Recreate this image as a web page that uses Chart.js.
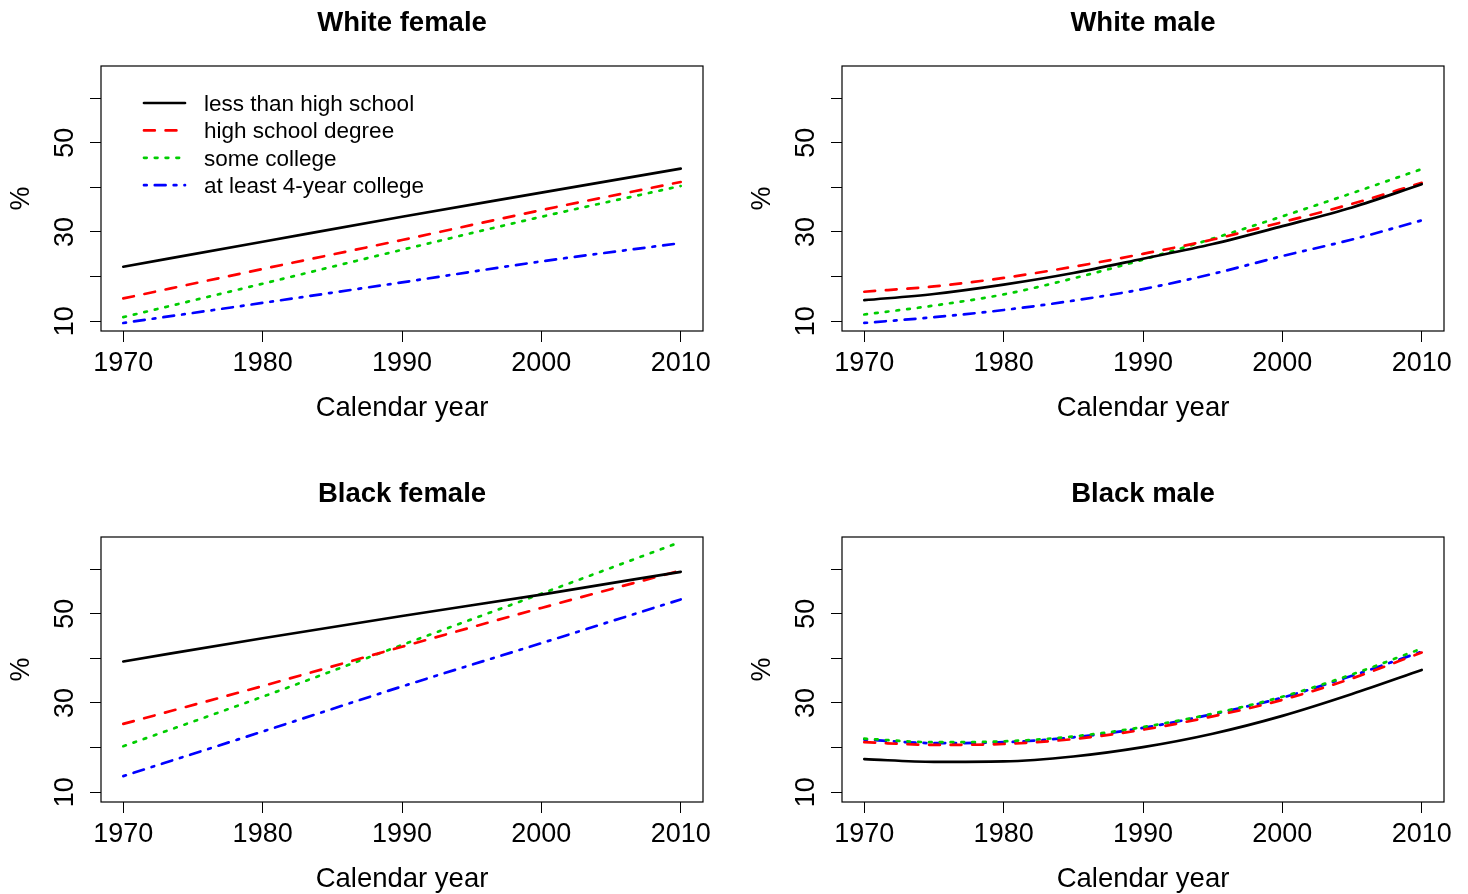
<!DOCTYPE html>
<html>
<head>
<meta charset="utf-8">
<script src="https://cdn.jsdelivr.net/npm/chart.js@4"></script>
<style>
  html, body { margin: 0; padding: 0; background: #fff; overflow: hidden; }
  body { width: 1468px; height: 894px; position: relative; }
  canvas { position: absolute; }
</style>
</head>
<body>
<canvas id="wf" width="741" height="471" style="left:0;top:0"></canvas>
<canvas id="wm" width="741" height="471" style="left:741px;top:0"></canvas>
<canvas id="bf" width="741" height="471" style="left:0;top:471px"></canvas>
<canvas id="bm" width="741" height="471" style="left:741px;top:471px"></canvas>
<script>
const FONT = "'Liberation Sans', Arial, Helvetica, sans-serif";

// groups and x ticks
const groups = ['less than high school', 'high school degree', 'some college', 'at least 4-year college'];
const xTicks = [1970, 1980, 1990, 2000, 2010];
const yTicks = [10, 20, 30, 40, 50, 60];
const yLabelled = [10, 30, 50];

const decades = [1970, 1980, 1990, 2000, 2010];
const halfDecades = [1970, 1975, 1980, 1985, 1990, 1995, 2000, 2005, 2010];

// White female (read at decades)
const wfLess = [22.2, 27.8, 33.4, 38.8, 44.2];
const wfHigh = [15.1, 21.7, 28.2, 34.9, 41.2];
const wfSome = [10.9, 18.4, 26.0, 33.4, 40.3];
const wfColl = [9.6, 14.1, 18.7, 23.4, 27.5];

// White male (read every 5 years)
const wmLess = [14.7, 16.1, 18.2, 20.8, 24.0, 27.3, 31.3, 35.5, 40.7];
const wmHigh = [16.6, 17.8, 19.7, 22.2, 25.1, 28.3, 32.2, 36.3, 41.0];
const wmSome = [11.5, 13.5, 16.0, 19.6, 23.8, 28.5, 33.5, 38.7, 44.1];
const wmColl = [9.6, 10.9, 12.5, 14.6, 17.2, 20.6, 24.6, 28.3, 32.6];

// Black female (read at decades)
const bfLess = [39.3, 44.5, 49.5, 54.3, 59.4];
const bfHigh = [25.3, 33.8, 42.6, 51.3, 59.7];
const bfSome = [20.3, 31.4, 43.0, 54.5, 66.1];
const bfColl = [13.6, 23.6, 33.7, 43.4, 53.2];

// Black male (read every 5 years)
const bmLess = [17.4, 16.8, 16.9, 18.0, 20.1, 23.1, 27.1, 32.0, 37.4];
const bmHigh = [21.2, 20.6, 20.8, 21.9, 24.0, 27.0, 30.7, 35.5, 41.3];
const bmSome = [22.0, 21.2, 21.4, 22.5, 24.6, 27.6, 31.4, 36.4, 42.2];
const bmColl = [21.8, 21.0, 21.2, 22.3, 24.4, 27.5, 31.2, 36.1, 41.5];

const styles = [
  { color: '#000000', dash: [] },
  { color: '#ff0000', dash: [10.8, 10.8] },
  { color: '#00cd00', dash: [2.7, 8.1] },
  { color: '#0000ff', dash: [2.7, 8.1, 10.8, 8.1] }
];

function makeDatasets(xs, series) {
  return series.map((vals, i) => ({
    label: groups[i],
    data: vals.map((v, j) => ({ x: xs[j], y: v })),
    borderColor: styles[i].color,
    borderDash: styles[i].dash,
    borderWidth: 2.7,
    borderCapStyle: 'round',
    pointRadius: 0,
    cubicInterpolationMode: 'monotone',
    fill: false
  }));
}

// box, panel title and legend, drawn R style
const decor = {
  id: 'decor',
  afterDatasetsDraw(chart, args, opts) {
    const { ctx, chartArea: a } = chart;
    ctx.save();
    ctx.strokeStyle = '#000';
    ctx.lineWidth = 1.2;
    ctx.setLineDash([]);
    ctx.strokeRect(a.left, a.top, a.right - a.left, a.bottom - a.top);

    ctx.fillStyle = '#000';
    ctx.font = 'bold 27.5px ' + FONT;
    ctx.textAlign = 'center';
    ctx.textBaseline = 'alphabetic';
    ctx.fillText(opts.title, (a.left + a.right) / 2, 31);

    if (opts.legend) {
      ctx.font = '22.5px ' + FONT;
      ctx.textAlign = 'left';
      ctx.textBaseline = 'middle';
      chart.data.datasets.forEach((ds, i) => {
        const y = a.top + 37 + i * 27.4;
        ctx.strokeStyle = ds.borderColor;
        ctx.lineWidth = ds.borderWidth;
        ctx.lineCap = 'round';
        ctx.setLineDash(ds.borderDash);
        ctx.beginPath();
        ctx.moveTo(a.left + 43, y);
        ctx.lineTo(a.left + 84, y);
        ctx.stroke();
        ctx.fillText(ds.label, a.left + 103, y + 1.5);
      });
    }
    ctx.restore();
  }
};

function panel(id, title, xs, series, legend) {
  new Chart(document.getElementById(id).getContext('2d'), {
    type: 'line',
    data: { datasets: makeDatasets(xs, series) },
    plugins: [decor],
    options: {
      responsive: false,
      animation: false,
      devicePixelRatio: 1,
      layout: { padding: { top: 66, right: 38, left: 0, bottom: 0 } },
      plugins: {
        legend: { display: false },
        tooltip: { enabled: false },
        decor: { title: title, legend: legend }
      },
      scales: {
        x: {
          type: 'linear',
          min: 1968.4,
          max: 2011.6,
          afterBuildTicks: s => { s.ticks = xTicks.map(v => ({ value: v })); },
          afterFit: s => { s.height = 140; },
          border: { display: false },
          grid: { drawOnChartArea: false, tickLength: 11, color: '#000', lineWidth: 1 },
          ticks: { color: '#000', font: { family: FONT, size: 27 }, padding: 5, maxRotation: 0, callback: v => String(v) },
          title: { display: true, text: 'Calendar year', color: '#000', font: { family: FONT, size: 27.5 }, padding: { top: 0, bottom: 46 } }
        },
        y: {
          type: 'linear',
          min: 7.8,
          max: 67.2,
          afterBuildTicks: s => { s.ticks = yTicks.map(v => ({ value: v })); },
          afterFit: s => { s.width = 101; },
          border: { display: false },
          grid: { drawOnChartArea: false, tickLength: 11, color: '#000', lineWidth: 1 },
          ticks: {
            color: '#000', font: { family: FONT, size: 27 }, padding: 9,
            minRotation: 90, maxRotation: 90, crossAlign: 'center',
            callback: v => yLabelled.includes(v) ? String(v) : ''
          },
          title: { display: true, text: '%', color: '#000', font: { family: FONT, size: 27 }, padding: { top: 5, bottom: 0 } }
        }
      }
    }
  });
}

panel('wf', 'White female', decades, [wfLess, wfHigh, wfSome, wfColl], true);
panel('wm', 'White male', halfDecades, [wmLess, wmHigh, wmSome, wmColl], false);
panel('bf', 'Black female', decades, [bfLess, bfHigh, bfSome, bfColl], false);
panel('bm', 'Black male', halfDecades, [bmLess, bmHigh, bmSome, bmColl], false);
</script>
</body>
</html>
